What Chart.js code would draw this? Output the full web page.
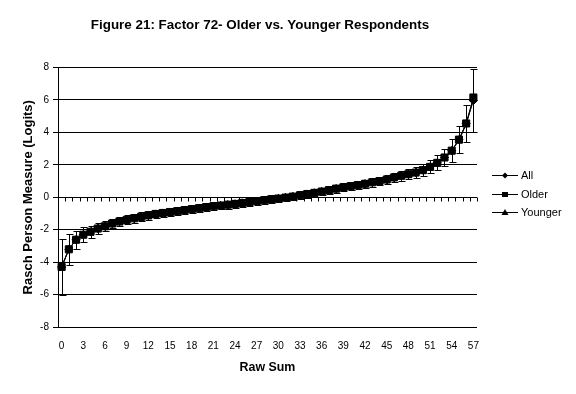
<!DOCTYPE html>
<html><head><meta charset="utf-8">
<script src="https://cdn.jsdelivr.net/npm/chart.js@4/dist/chart.umd.min.js"></script>
<style>html,body{margin:0;padding:0;background:#fff}#wrap{width:576px;height:394px}</style>
</head><body><div id="wrap"><canvas id="c" width="576" height="394"></canvas></div>
<script>
const categories = ['0','1','2','3','4','5','6','7','8','9','10','11','12','13','14','15','16','17','18','19','20','21','22','23','24','25','26','27','28','29','30','31','32','33','34','35','36','37','38','39','40','41','42','43','44','45','46','47','48','49','50','51','52','53','54','55','56','57'];
const tickLabels = ['0','3','6','9','12','15','18','21','24','27','30','33','36','39','42','45','48','51','54','57'];
const yTicks = [-8,-6,-4,-2,0,2,4,6,8];
const legendLabels = ['All','Older','Younger'];
const allValues = [-4.30,-3.21,-2.62,-2.31,-2.13,-1.93,-1.79,-1.62,-1.50,-1.40,
 -1.30,-1.21,-1.12,-1.03,-0.97,-0.91,-0.86,-0.80,-0.74,-0.68,
 -0.61,-0.56,-0.51,-0.46,-0.41,-0.35,-0.30,-0.24,-0.19,-0.13,
 -0.08,-0.02,0.04,0.12,0.20,0.27,0.35,0.44,0.53,0.61,
 0.68,0.75,0.83,0.92,1.00,1.09,1.22,1.32,1.42,1.52,
 1.67,1.87,2.12,2.45,2.87,3.55,4.55,5.96];
const olderValues = [-4.30,-3.21,-2.62,-2.31,-2.13,-1.93,-1.79,-1.62,-1.50,-1.40,
 -1.30,-1.21,-1.12,-1.03,-0.97,-0.91,-0.86,-0.80,-0.74,-0.68,
 -0.61,-0.56,-0.51,-0.46,-0.41,-0.35,-0.30,-0.24,-0.19,-0.13,
 -0.08,-0.02,0.04,0.12,0.20,0.27,0.35,0.44,0.53,0.61,
 0.68,0.75,0.83,0.92,1.00,1.09,1.22,1.32,1.42,1.52,
 1.67,1.87,2.12,2.45,2.87,3.55,4.55,6.15];
const youngerValues = [-4.30,-3.21,-2.62,-2.31,-2.13,-1.93,-1.79,-1.62,-1.50,-1.40,
 -1.30,-1.21,-1.12,-1.03,-0.97,-0.91,-0.86,-0.80,-0.74,-0.68,
 -0.61,-0.56,-0.51,-0.46,-0.41,-0.35,-0.30,-0.24,-0.19,-0.13,
 -0.08,-0.02,0.04,0.12,0.20,0.27,0.35,0.44,0.53,0.61,
 0.68,0.75,0.83,0.92,1.00,1.09,1.22,1.32,1.42,1.52,
 1.67,1.87,2.12,2.45,2.87,3.50,4.50,6.05];
const allErrors = [1.73,0.95,0.55,0.46,0.38,0.36,0.32,0.30,0.29,0.28,
 0.27,0.27,0.26,0.26,0.25,0.25,0.25,0.25,0.24,0.24,
 0.24,0.24,0.24,0.24,0.24,0.24,0.24,0.24,0.24,0.24,
 0.24,0.24,0.24,0.24,0.24,0.24,0.24,0.24,0.25,0.25,
 0.25,0.25,0.26,0.26,0.27,0.27,0.28,0.29,0.30,0.32,
 0.35,0.40,0.46,0.55,0.72,0.85,1.13,1.92];

const FONT = '"Liberation Sans", Arial, sans-serif';
Chart.defaults.font.family = FONT;
Chart.defaults.color = '#000';

const titleShift = {
  id: 'titleShift',
  afterLayout(chart) {
    if (chart.titleBlock) { chart.titleBlock.left = 43; chart.titleBlock.right = chart.chartArea.right; }
  }
};

const errorBars = {
  id: 'errorBars',
  afterDatasetsDraw(chart) {
    const ctx = chart.ctx, xs = chart.scales.x, ys = chart.scales.y;
    ctx.save();
    ctx.strokeStyle = '#000'; ctx.lineWidth = 1;
    ctx.beginPath();
    allValues.forEach((v, i) => {
      const x = Math.round(xs.getPixelForValue(i)) + 0.5;
      const t = Math.round(ys.getPixelForValue(v + allErrors[i])) + 0.5;
      const b = Math.round(ys.getPixelForValue(v - allErrors[i])) + 0.5;
      ctx.moveTo(x, t); ctx.lineTo(x, b);
      ctx.moveTo(x - 3, t); ctx.lineTo(x + 4, t);
      ctx.moveTo(x - 3, b); ctx.lineTo(x + 4, b);
    });
    ctx.stroke();
    ctx.restore();
  }
};

const zeroTicks = {
  id: 'zeroTicks',
  afterDraw(chart) {
    const ctx = chart.ctx, xs = chart.scales.x, ys = chart.scales.y;
    const y0 = Math.round(ys.getPixelForValue(0)) + 0.5;
    const step = xs.getPixelForValue(1) - xs.getPixelForValue(0);
    ctx.save();
    ctx.strokeStyle = '#000'; ctx.lineWidth = 1;
    ctx.beginPath();
    for (let i = 0; i <= categories.length; i++) {
      const x = Math.round(xs.getPixelForValue(0) + (i - 0.5) * step) + 0.5;
      ctx.moveTo(x, y0); ctx.lineTo(x, y0 + 4);
    }
    ctx.stroke();
    ctx.restore();
  }
};

const customLegend = {
  id: 'customLegend',
  afterDraw(chart) {
    const ctx = chart.ctx;
    const ysPos = [175.5, 194.5, 212.5];
    const styles = ['diamond', 'square', 'triangle'];
    ctx.save();
    ctx.strokeStyle = '#000'; ctx.fillStyle = '#000'; ctx.lineWidth = 1;
    ctx.font = '11px ' + FONT;
    ctx.textBaseline = 'middle';
    legendLabels.forEach((lab, k) => {
      const y = ysPos[k];
      ctx.beginPath(); ctx.moveTo(492, y); ctx.lineTo(518, y); ctx.stroke();
      const cx = 505;
      ctx.beginPath();
      if (styles[k] === 'diamond') {
        ctx.moveTo(cx, y - 3); ctx.lineTo(cx + 3, y); ctx.lineTo(cx, y + 3); ctx.lineTo(cx - 3, y); ctx.closePath();
      } else if (styles[k] === 'square') {
        ctx.rect(cx - 3, y - 2.5, 6, 5);
      } else {
        ctx.moveTo(cx, y - 3.5); ctx.lineTo(cx + 3.5, y + 2.5); ctx.lineTo(cx - 3.5, y + 2.5); ctx.closePath();
      }
      ctx.fill();
      ctx.fillText(lab, 521, y);
    });
    ctx.restore();
  }
};

new Chart(document.getElementById('c'), {
  type: 'line',
  data: {
    labels: categories,
    datasets: [
      { label: legendLabels[0], data: allValues, borderColor: '#000', backgroundColor: '#000', borderWidth: 1,
        pointStyle: 'rectRot', pointRadius: 4, pointBorderWidth: 1, pointBackgroundColor: '#000', pointBorderColor: '#000', tension: 0, order: 2 },
      { label: legendLabels[1], data: olderValues, borderColor: '#000', backgroundColor: '#000', borderWidth: 1,
        pointStyle: 'rect', pointRadius: 5, pointBorderWidth: 1, pointBackgroundColor: '#000', pointBorderColor: '#000', tension: 0, order: 0 },
      { label: legendLabels[2], data: youngerValues, borderColor: '#000', backgroundColor: '#000', borderWidth: 1,
        pointStyle: 'triangle', pointRadius: 4, pointBorderWidth: 1, pointBackgroundColor: '#000', pointBorderColor: '#000', tension: 0, order: 1 }
    ]
  },
  options: {
    responsive: false,
    animation: false,
    devicePixelRatio: 1,
    layout: { padding: { left: 0, right: 99, top: 0, bottom: 0 } },
    plugins: {
      legend: { display: false },
      tooltip: { enabled: false },
      title: {
        display: true,
        text: 'Figure 21: Factor 72- Older vs. Younger Respondents',
        color: '#000',
        font: { size: 13.4, weight: 'bold', family: FONT },
        padding: { top: 17, bottom: 34.4 }
      }
    },
    scales: {
      x: {
        type: 'category',
        offset: true,
        grid: { display: false, drawTicks: false },
        border: { display: false },
        ticks: {
          autoSkip: false, maxRotation: 0, minRotation: 0, padding: 13,
          color: '#000', font: { size: 10, family: FONT },
          callback: (v, i) => tickLabels.includes(categories[i]) ? categories[i] : ''
        },
        title: { display: true, text: 'Raw Sum', color: '#000', font: { size: 12.4, weight: 'bold', family: FONT }, padding: { top: 0, bottom: 18.6 } },
        afterFit: s => { s.height = 67; }
      },
      y: {
        min: -8, max: 8,
        afterBuildTicks: s => { s.ticks = yTicks.map(v => ({ value: v })); },
        ticks: { color: '#000', font: { size: 10, family: FONT }, padding: 4 },
        grid: { color: '#000', lineWidth: 1, drawTicks: true, tickLength: 5, tickColor: '#000' },
        border: { display: true, color: '#000', width: 1 },
        title: { display: true, text: 'Rasch Person Measure (Logits)', color: '#000', font: { size: 13, weight: 'bold', family: FONT }, padding: { top: 21, bottom: 0 } },
        afterFit: s => { s.width = 58; }
      }
    }
  },
  plugins: [titleShift, errorBars, zeroTicks, customLegend]
});
</script>
</body></html>
